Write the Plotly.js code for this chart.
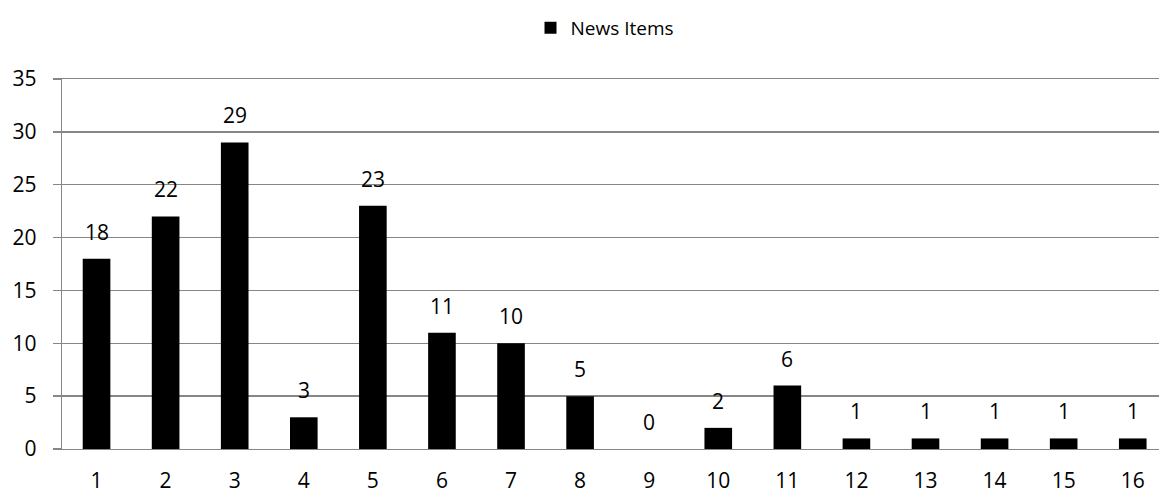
<!DOCTYPE html>
<html>
<head>
<meta charset="utf-8">
<script src="https://cdn.plot.ly/plotly-3.0.1.min.js"></script>
<style>html,body{margin:0;padding:0;background:#fff;}#chart{width:1159px;height:494px;}</style>
</head>
<body>
<div id="chart"></div>
<script>
const categories = [1,2,3,4,5,6,7,8,9,10,11,12,13,14,15,16];
const newsItems = [18,22,29,3,23,11,10,5,0,2,6,1,1,1,1,1];
const seriesName = "News Items";
const yTicks = [0,5,10,15,20,25,30,35];

const FONT = "'Open Sans', 'Noto Sans', sans-serif";
const GRID = "#868686";

const trace = {
  type: "bar",
  x: categories,
  y: newsItems,
  name: seriesName,
  marker: {color: "#000000", line: {width: 0}},
  width: 0.4,
  hoverinfo: "x+y",
  showlegend: true
};

const annotations = categories.map((c, i) => ({
  x: c, y: newsItems[i], xref: "x", yref: "y",
  text: String(newsItems[i]), showarrow: false,
  yanchor: "bottom", yshift: 11,
  font: {family: FONT, size: 21, color: "#000"}
}));

const layout = {
  width: 1159, height: 494,
  margin: {l: 62, r: 0, t: 79, b: 45, pad: 0},
  paper_bgcolor: "#fff", plot_bgcolor: "#fff",
  font: {family: FONT, size: 21, color: "#000"},
  showlegend: true,
  legend: {
    orientation: "h", x: 0.495, xanchor: "center", y: 1.138, yanchor: "middle",
    font: {family: FONT, size: 19, color: "#000"}, bgcolor: "rgba(0,0,0,0)"
  },
  xaxis: {
    range: [0.5, 16.38], tickmode: "array", tickvals: categories,
    ticktext: categories.map(String), showgrid: false, zeroline: false,
    showline: true, mirror: true, linecolor: GRID, linewidth: 1.3,
    ticks: "outside", ticklen: 0, ticklabelstandoff: 12,
    tickfont: {family: FONT, size: 21, color: "#000"}, fixedrange: true
  },
  yaxis: {
    range: [0, 35], tickmode: "array", tickvals: yTicks,
    showgrid: true, gridcolor: GRID, gridwidth: 1.3,
    zeroline: false, showline: true, linecolor: GRID, linewidth: 1.3,
    ticks: "outside", ticklen: 8, tickcolor: GRID, tickwidth: 1.3,
    ticklabelstandoff: 12,
    tickfont: {family: FONT, size: 21, color: "#000"}, fixedrange: true
  },
  annotations: annotations
};

Plotly.newPlot("chart", [trace], layout, {displayModeBar: false, staticPlot: true});
</script>
</body>
</html>
